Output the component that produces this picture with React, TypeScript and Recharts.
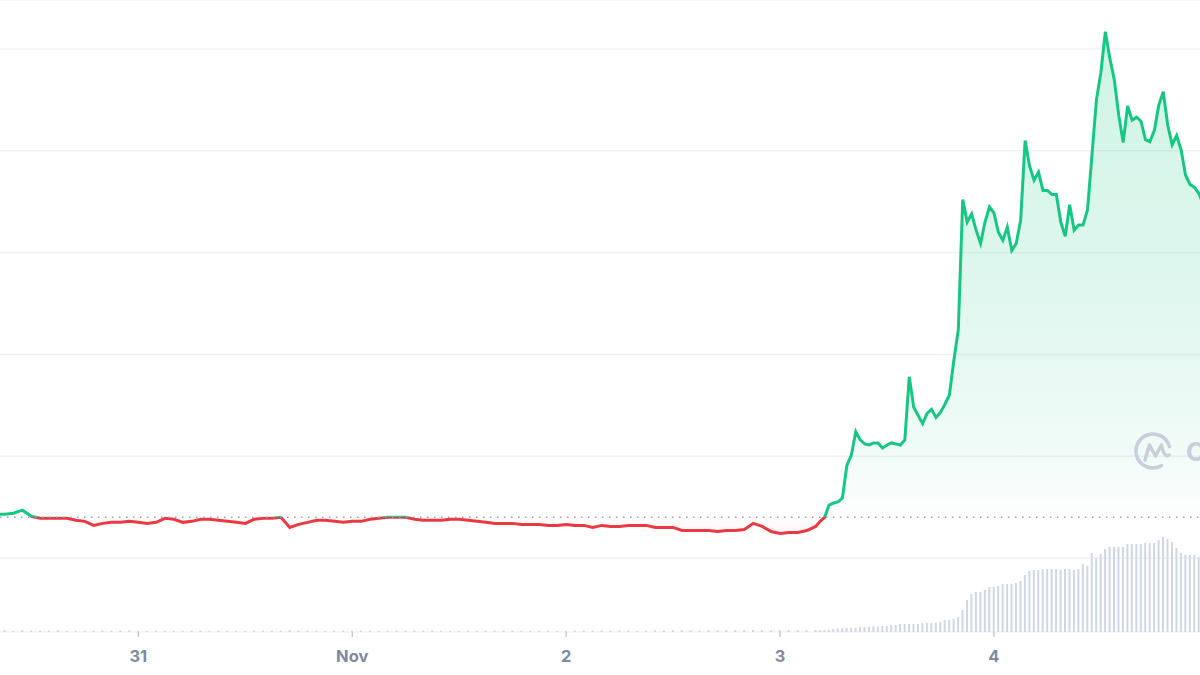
import React from 'react';
import { ComposedChart, Area, Bar, XAxis, YAxis, CartesianGrid, ReferenceLine } from 'recharts';

// hours counted from Oct 30 00:00
const START_HOUR = 8;
const OPEN_PRICE = 1.4; // price at the start of the window (dotted line)

// Oct 30 08:00 -> Nov 3 04:00, one point per hour
const PRICE_HOURLY = [
  1.43, 1.43, 1.44, 1.47, 1.41, 1.39, 1.39, 1.39, 1.39, 1.37,
  1.36, 1.32, 1.34, 1.35, 1.35, 1.36, 1.35, 1.34, 1.35, 1.39,
  1.38, 1.35, 1.36, 1.38, 1.38, 1.37, 1.36, 1.35, 1.34, 1.38,
  1.39, 1.39, 1.40, 1.30, 1.33, 1.35, 1.37, 1.37, 1.36, 1.35,
  1.36, 1.36, 1.38, 1.39, 1.40, 1.40, 1.40, 1.38, 1.37, 1.37,
  1.37, 1.38, 1.38, 1.37, 1.36, 1.35, 1.34, 1.34, 1.34, 1.33,
  1.33, 1.33, 1.32, 1.32, 1.33, 1.32, 1.32, 1.30, 1.32, 1.31,
  1.31, 1.32, 1.32, 1.32, 1.30, 1.30, 1.30, 1.27, 1.27, 1.27,
  1.27, 1.26, 1.27, 1.27, 1.28, 1.34, 1.31, 1.26, 1.24, 1.25,
  1.25, 1.27, 1.31,
];
const VOLUME_HOURLY = [
  0.15, 0.16, 0.14, 0.17, 0.15, 0.13, 0.14, 0.16, 0.15, 0.14,
  0.13, 0.15, 0.14, 0.13, 0.15, 0.16, 0.14, 0.13, 0.14, 0.15,
  0.14, 0.13, 0.15, 0.14, 0.13, 0.14, 0.15, 0.13, 0.14, 0.16,
  0.15, 0.14, 0.13, 0.17, 0.15, 0.14, 0.13, 0.14, 0.15, 0.14,
  0.13, 0.14, 0.15, 0.14, 0.13, 0.15, 0.14, 0.13, 0.14, 0.15,
  0.14, 0.13, 0.14, 0.15, 0.14, 0.13, 0.14, 0.15, 0.14, 0.13,
  0.14, 0.15, 0.14, 0.13, 0.14, 0.15, 0.14, 0.15, 0.14, 0.15,
  0.16, 0.15, 0.14, 0.15, 0.16, 0.15, 0.16, 0.17, 0.16, 0.15,
  0.16, 0.17, 0.16, 0.17, 0.18, 0.19, 0.18, 0.17, 0.18, 0.19,
  0.19, 0.18, 0.19,
];

// Nov 3 04:30 -> Nov 4 23:30, one point every 30 minutes
const PRICE_HALF_HOURLY = [
  1.36, 1.40, 1.52, 1.54, 1.55, 1.59, 1.91, 2.01, 2.24, 2.16,
  2.12, 2.11, 2.13, 2.13, 2.08, 2.11, 2.13, 2.12, 2.11, 2.16,
  2.78, 2.48, 2.40, 2.32, 2.42, 2.46, 2.38, 2.43, 2.51, 2.60,
  2.94, 3.24, 4.52, 4.30, 4.38, 4.22, 4.09, 4.30, 4.45, 4.39,
  4.20, 4.12, 4.25, 4.02, 4.09, 4.32, 5.10, 4.85, 4.71, 4.79,
  4.61, 4.61, 4.57, 4.57, 4.30, 4.16, 4.47, 4.22, 4.27, 4.27,
  4.42, 4.96, 5.50, 5.77, 6.17, 5.91, 5.70, 5.35, 5.08, 5.44,
  5.30, 5.33, 5.29, 5.11, 5.09, 5.20, 5.45, 5.58, 5.25, 5.06,
  5.15, 5.01, 4.76, 4.67, 4.64, 4.58, 4.47,
];
const VOLUME_HALF_HOURLY = [
  0.19, 0.19, 0.20, 0.30, 0.33, 0.35, 0.38, 0.40, 0.40, 0.47,
  0.47, 0.50, 0.52, 0.52, 0.57, 0.57, 0.66, 0.66, 0.76, 0.76,
  0.78, 0.76, 0.78, 0.85, 0.85, 0.85, 0.88, 0.95, 1.14, 1.14,
  1.23, 1.42, 2.09, 3.04, 3.61, 3.80, 3.80, 3.99, 4.27, 4.27,
  4.37, 4.56, 4.56, 4.56, 4.65, 4.84, 5.41, 5.79, 5.89, 5.89,
  5.98, 5.98, 5.98, 5.98, 5.89, 5.98, 5.98, 5.89, 5.98, 6.46,
  6.27, 7.50, 7.03, 7.41, 7.88, 8.07, 8.07, 8.07, 8.07, 8.36,
  8.36, 8.36, 8.36, 8.45, 8.45, 8.45, 8.74, 9.02, 8.83, 8.55,
  7.98, 7.50, 7.31, 7.31, 7.31, 7.12, 6.93,
];

const DAY_TICKS = [24, 48, 72, 96, 120];
const DAY_LABELS = ['31', 'Nov', '2', '3', '4'];
const PRICE_GRID = [1, 2, 3, 4, 5, 6];

const lastHourly = START_HOUR + PRICE_HOURLY.length - 1;
const data = [
  ...PRICE_HOURLY.map((price, i) => ({ t: START_HOUR + i, price, volume: VOLUME_HOURLY[i] })),
  ...PRICE_HALF_HOURLY.map((price, i) => ({ t: lastHourly + (i + 1) * 0.5, price, volume: VOLUME_HALF_HOURLY[i] })),
];

const GREEN = '#16c784';
const RED = '#ea3943';

const App: React.FC = () => {
  const prices = data.map((d) => d.price);
  const max = Math.max(...prices);
  const min = Math.min(...prices);
  // where a price sits inside the line's bounding box (0 = top, 1 = bottom)
  const at = (v: number) => (max - v) / (max - min);
  const off = at(OPEN_PRICE);

  return (
    <div style={{ position: 'absolute', left: 0, top: 0, width: 1200, height: 675, overflow: 'hidden', background: '#fff' }}>
      <ComposedChart width={1200} height={675} data={data} margin={{ top: 0, right: 0, bottom: 0, left: 0 }}>
        <defs>
          <linearGradient id="priceStroke" x1="0" y1="0" x2="0" y2="1">
            <stop offset={off} stopColor={GREEN} />
            <stop offset={off} stopColor={RED} />
          </linearGradient>
          <linearGradient id="priceFill" x1="0" y1="0" x2="0" y2="1">
            <stop offset={0} stopColor={GREEN} stopOpacity={0.34} />
            <stop offset={at(3.5)} stopColor={GREEN} stopOpacity={0.22} />
            <stop offset={at(2.0)} stopColor={GREEN} stopOpacity={0.1} />
            <stop offset={off} stopColor={GREEN} stopOpacity={0.02} />
            <stop offset={off} stopColor={RED} stopOpacity={0.03} />
            <stop offset={1} stopColor={RED} stopOpacity={0.06} />
          </linearGradient>
        </defs>
        <CartesianGrid vertical={false} stroke="#eff2f5" strokeWidth={1.5} yAxisId="price" />
        <XAxis
          dataKey="t"
          type="number"
          domain={[8.48, 143.12]}
          allowDataOverflow
          ticks={DAY_TICKS}
          interval={0}
          tickFormatter={(v: number) => DAY_LABELS[DAY_TICKS.indexOf(v)]}
          height={43}
          axisLine={false}
          tickSize={5}
          tickMargin={13}
          tickLine={{ stroke: '#a6b0c3' }}
          tick={{ fill: '#808a9d', fontSize: 16.5, fontWeight: 700, fontFamily: 'Inter, sans-serif' }}
        />
        <YAxis yAxisId="price" hide domain={[0.273, 6.481]} ticks={PRICE_GRID} allowDataOverflow />
        <YAxis yAxisId="vol" hide orientation="right" domain={[0, 60]} />
        <Bar yAxisId="vol" dataKey="volume" fill="#cfd6e4" barSize={2} isAnimationActive={false} />
        <Area
          yAxisId="price"
          type="linear"
          dataKey="price"
          baseValue={OPEN_PRICE}
          stroke="url(#priceStroke)"
          strokeWidth={3}
          fill="url(#priceFill)"
          dot={false}
          activeDot={false}
          isAnimationActive={false}
        />
        <ReferenceLine yAxisId="price" y={OPEN_PRICE} stroke="#98a1b5" strokeWidth={1.4} strokeDasharray="1.5 5.5" />
      </ComposedChart>

      {/* watermark */}
      <svg width={1200} height={675} style={{ position: 'absolute', left: 0, top: 0, pointerEvents: 'none' }}>
        <g fill="none" stroke="#c9cedb" strokeWidth={3.5} strokeLinecap="round" strokeLinejoin="round">
          <path d="M 1169.4 446.6 A 17 17 0 1 0 1161.5 465.7" />
          <path d="M 1145 460 L 1149.5 445 L 1155.5 456 L 1161.5 445 Q 1164 458 1169 455" />
        </g>
        <text x={1186} y={461} fontSize={26} fontWeight={700} fill="#c9cedb" fontFamily="Inter, sans-serif">
          CoinMarketCap
        </text>
      </svg>
    </div>
  );
};

export default App;
